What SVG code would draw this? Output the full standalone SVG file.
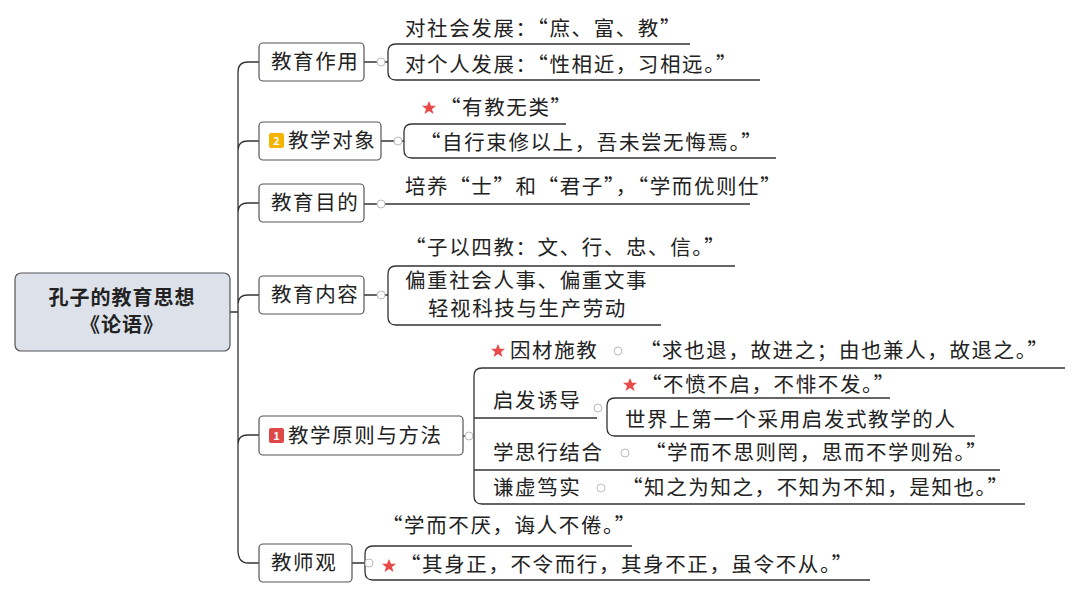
<svg xmlns="http://www.w3.org/2000/svg" width="1080" height="597" viewBox="0 0 1080 597">
<style>
text{font-family:"Noto Sans CJK SC","Liberation Sans",sans-serif;font-size:20.5px;letter-spacing:1.6px;fill:#222}
.n{fill:#fff;stroke:#555;stroke-width:1.2}
.l{fill:none;stroke:#333;stroke-width:1.3}
.s{fill:#e84a4a}
.b{font-size:11px;fill:#fff;font-weight:bold;letter-spacing:0}
</style>
<defs><polygon id="st" class="s" points="0,-7 2,-2.2 7,-2.2 3,1 4.5,6 0,3 -4.5,6 -3,1 -7,-2.2 -2,-2.2"/></defs>
<rect width="1080" height="597" fill="#fff"/>
<g id="connectors">
<path class="l" d="M230 312H238M259 62H248Q238 62 238 72V550Q238 563 248 563H259M238 150Q238 141 248 141H259M238 212Q238 203 248 203H259M238 304Q238 295 248 295H259M238 444Q238 435 248 435H259"/>
<path class="l" d="M364 62H388M690 44H396Q388 44 388 52V72Q388 80 396 80H760"/>
<path class="l" d="M381 141H404M566 124H412Q404 124 404 132V150Q404 158 412 158H776"/>
<path class="l" d="M364 204H750"/>
<path class="l" d="M364 295H388M735 266H396Q388 266 388 274V317Q388 325 396 325H661"/>
<path class="l" d="M463 436H474M1065 368H482Q474 368 474 376V496Q474 504 482 504H1025M474 418H597M890 398H615Q607 398 607 406V428Q607 436 615 436H975M474 470H1000"/>
<path class="l" d="M352 563H365M632 546H373Q365 546 365 554V572Q365 580 373 580H870"/>
</g>
<g fill="#fff" stroke="#bbb">
<circle cx="381" cy="62" r="4"/><circle cx="398" cy="141" r="4"/><circle cx="381" cy="204" r="4"/><circle cx="381" cy="295" r="4"/><circle cx="469" cy="436" r="4"/><circle cx="369" cy="563" r="4"/><circle cx="618" cy="351" r="4"/><circle cx="598" cy="408" r="4"/><circle cx="625" cy="453" r="4"/><circle cx="601" cy="488" r="4"/>
</g>
<g id="root"><rect x="15" y="273" width="215" height="78" rx="6" fill="#dde2ea" stroke="#555" stroke-width="1.2"/>
<text x="122" y="305" text-anchor="middle" font-weight="bold" style="font-size:20px;letter-spacing:1px">孔子的教育思想</text><text x="122" y="332" text-anchor="middle" font-weight="bold" style="font-size:20px;letter-spacing:1px">《论语》</text></g>
<g id="n1"><rect class="n" x="259" y="43" width="105" height="38" rx="4"/><text x="271" y="69">教育作用</text>
<text x="405" y="36">对社会发展：“庶、富、教”</text><text x="405" y="72">对个人发展：“性相近，习相远。”</text></g>
<g id="n2"><rect class="n" x="259" y="122" width="122" height="38" rx="4"/><rect x="269" y="133" width="15" height="15" rx="2" fill="#f5b400"/><text class="b" x="276.5" y="145" text-anchor="middle">2</text><text x="288" y="148">教学对象</text>
<use href="#st" x="429" y="108"/><text x="440" y="115">“有教无类”</text><text x="420" y="150">“自行束修以上，吾未尝无悔焉。”</text></g>
<g id="n3"><rect class="n" x="259" y="184" width="105" height="38" rx="4"/><text x="271" y="210">教育目的</text><text x="405" y="194">培养“士”和“君子”，“学而优则仕”</text></g>
<g id="n4"><rect class="n" x="259" y="276" width="105" height="38" rx="4"/><text x="271" y="302">教育内容</text>
<text x="405" y="255">“子以四教：文、行、忠、信。”</text><text x="405" y="288">偏重社会人事、偏重文事</text><text x="428" y="316">轻视科技与生产劳动</text></g>
<g id="n5"><rect class="n" x="259" y="416" width="204" height="39" rx="4"/><rect x="269" y="428" width="15" height="15" rx="2" fill="#e04848"/><text class="b" x="276.5" y="440" text-anchor="middle">1</text><text x="288" y="443">教学原则与方法</text>
<use href="#st" x="498" y="351"/><text x="510" y="358">因材施教</text><text x="640" y="358">“求也退，故进之；由也兼人，故退之。”</text>
<text x="493" y="408">启发诱导</text><use href="#st" x="630" y="385"/><text x="641" y="392">“不愤不启，不悱不发。”</text><text x="625" y="427">世界上第一个采用启发式教学的人</text>
<text x="493" y="460">学思行结合</text><text x="645" y="460">“学而不思则罔，思而不学则殆。”</text>
<text x="493" y="495">谦虚笃实</text><text x="622" y="495">“知之为知之，不知为不知，是知也。”</text></g>
<g id="n6"><rect class="n" x="259" y="544" width="93" height="38" rx="4"/><text x="271" y="570">教师观</text>
<text x="382" y="533">“学而不厌，诲人不倦。”</text><use href="#st" x="389" y="566"/><text x="400" y="572">“其身正，不令而行，其身不正，虽令不从。”</text></g>
</svg>
